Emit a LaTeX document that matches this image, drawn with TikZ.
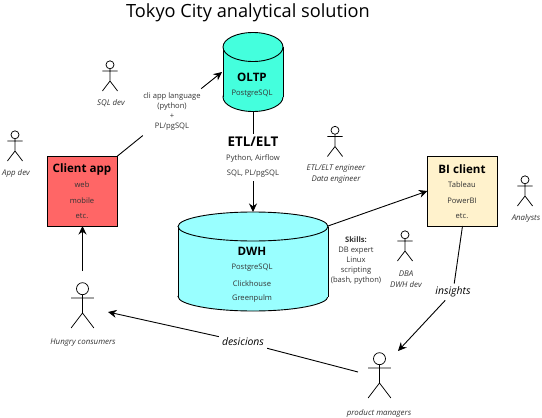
\documentclass[tikz,border=0pt]{standalone}
\usepackage{fontspec}
\setmainfont{Open Sans}
\usetikzlibrary{arrows.meta}
\definecolor{OLTPteal}{HTML}{44FFDD}
\definecolor{DWHcyan}{HTML}{99FFFF}
\definecolor{APPred}{HTML}{FF6666}
\definecolor{BIcream}{HTML}{FFF2CC}
\definecolor{TXTdark}{HTML}{333333}
\newcommand{\titlefont}{\fontsize{18.2}{20}\selectfont}
\newcommand{\headfont}{\fontsize{11.6}{13}\bfseries\selectfont}
\newcommand{\smallfont}{\fontsize{7.6}{10}\selectfont}
\newcommand{\rolefont}{\fontsize{7.9}{11}\itshape\selectfont}
% name, centre x, centre y, half width, half height, rim radius, fill
\newcommand{\dbshape}[7]{
  \node[minimum width=2*#4pt, minimum height=2*#5pt, inner sep=0pt, outer sep=0pt] (#1) at (#2,#3) {};
  \draw[dbline, fill=#7] (#2,#3+#5-#6) ellipse [x radius=#4, y radius=#6];
  \fill[#7] (#2-#4,#3-#5+#6) rectangle (#2+#4,#3+#5-#6);
  \draw[dbline] (#2-#4,#3-#5+#6) -- (#2-#4,#3+#5-#6) (#2+#4,#3-#5+#6) -- (#2+#4,#3+#5-#6);
  \draw[dbline, fill=#7] (#2,#3-#5+#6) ellipse [x radius=#4, y radius=#6];
}
\tikzset{
  dbline/.style={draw=black, line width=0.9pt},
  appbox/.style={draw=black, line width=0.9pt, minimum width=70pt, minimum height=70pt,
    inner sep=0pt, outer sep=0pt},
  headtxt/.style={font=\headfont, inner sep=0pt},
  smalltxt/.style={font=\smallfont, text=TXTdark, inner sep=0pt},
  roletxt/.style={font=\rolefont, text=TXTdark, align=center, inner sep=0pt},
  flowtxt/.style={font=\fontsize{10.4}{12}\itshape\selectfont, inner sep=3pt},
  flow/.style={line width=0.9pt},
  flowarrow/.style={flow, -{Stealth[length=8.5pt, width=8pt]}},
  stickman/.pic={
    \draw[line width=0.75pt] (0,-6.2) circle (4);
    \draw[line width=0.75pt] (0,-2.2) -- (0,10) (-7.6,0) -- (7.6,0) (-7.6,20) -- (0,10) -- (7.6,20);
  }
}

\begin{document}
\begin{tikzpicture}[x=1pt, y=-1pt]
    \useasboundingbox (0,0) rectangle (542,418);
    % title
    \node[font=\titlefont, inner sep=0pt] (title) at (248,13) {Tokyo City analytical solution};
    % storages
    \dbshape{oltp}{253}{72}{30}{39.5}{14.5}{OLTPteal}
    \dbshape{dwh}{253}{261.5}{75}{49.5}{14.5}{DWHcyan}
    \node[headtxt] (oltpname) at (252,77) {OLTP};
    \node[smalltxt] (oltpdb) at (252,94) {PostgreSQL};
    \node[headtxt] (dwhname) at (252,251) {DWH};
    \node[smalltxt] (dwhpg) at (252,268) {PostgreSQL};
    \node[smalltxt] (dwhch) at (252,284) {Clickhouse};
    \node[smalltxt] (dwhgp) at (252,299) {Greenpulm};
    % client boxes
    \node[appbox, fill=APPred] (client) at (82.5,191) {};
    \node[headtxt] (clientname) at (82,169) {Client app};
    \node[smalltxt] (clientweb) at (82,185) {web};
    \node[smalltxt] (clientmob) at (82,201) {mobile};
    \node[smalltxt] (clientetc) at (82,216) {etc.};
    \node[appbox, fill=BIcream] (bi) at (462.5,191) {};
    \node[headtxt] (biname) at (462,169) {BI client};
    \node[smalltxt] (bitab) at (462,185) {Tableau};
    \node[smalltxt] (bipow) at (462,201) {PowerBI};
    \node[smalltxt] (bietc) at (462,216) {etc.};
    % texts that break the connectors
    \node[smalltxt, align=center, minimum width=58pt, minimum height=48pt] (cli) at (172,112)
      {cli app language\\(python)\\+\\PL/pgSQL};
    \node[smalltxt, align=center, minimum height=47pt] (etl) at (253,157.5)
      {{\fontsize{13.4}{15}\selectfont\bfseries\color{black} ETL/ELT}\\[4pt]Python, Airflow\\[5pt]SQL, PL/pgSQL};
    \node[flowtxt] (insights) at (453,292) {insights};
    \node[flowtxt] (desicions) at (243,342) {desicions};
    \node[smalltxt, align=center] (skills) at (356,261) {\textbf{Skills:}\\DB expert\\Linux\\scripting\\(bash, python)};
    % people
    \pic at (110,71) {stickman};
    \node[roletxt] (sqldev) at (111,103) {SQL dev};
    \pic at (15,141) {stickman};
    \node[roletxt] (appdev) at (16,173) {App dev};
    \pic at (335,136.5) {stickman};
    \node[roletxt] (etldev) at (336,174) {ETL/ELT engineer\\Data engineer};
    \pic at (525,186) {stickman};
    \node[roletxt] (analysts) at (526,218) {Analysts};
    \pic at (405,241) {stickman};
    \node[roletxt] (dba) at (406,279) {DBA\\DWH dev};
    \pic[scale=1.5] at (82.5,298) {stickman};
    \node[roletxt] (hungry) at (83,343) {Hungry consumers};
    \pic[scale=1.5] at (379.5,368) {stickman};
    \node[roletxt] (managers) at (379,413) {product managers};
    \coordinate (hungrytop) at (82.5,271);
    \coordinate (hungryside) at (108,312);
    \coordinate (managerside) at (358,372);
    \coordinate (managertop) at (398,351);
    \coordinate (oltpside) at (222,72);
    \coordinate (dwhrim) at (328,226);
    % connectors
    \draw[flow] (client.north east) -- (cli);
    \draw[flowarrow] (cli) -- (oltpside);
    \draw[flow] (oltp.south) -- (etl);
    \draw[flowarrow] (etl) -- (dwh.north);
    \draw[flowarrow] (dwhrim) -- (bi.west);
    \draw[flowarrow] (hungrytop) -- (client.south);
    \draw[flow] (bi.south) -- (insights);
    \draw[flowarrow] (insights) -- (managertop);
    \draw[flow] (managerside) -- (desicions);
    \draw[flowarrow] (desicions) -- (hungryside);
  \end{tikzpicture}
\end{document}
